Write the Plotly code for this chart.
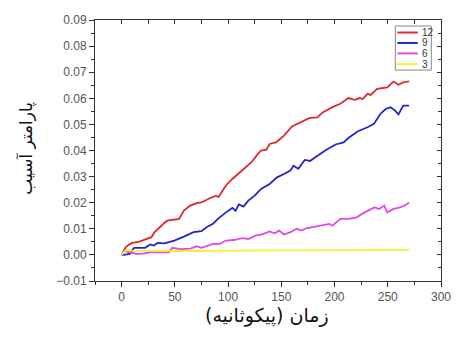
import plotly.graph_objects as go

series_names = ["12", "9", "6", "3"]
series_colors = ["#e0282c", "#2424c8", "#e448e4", "#f2f230"]

red_x = [0, 2, 4, 7, 10, 16, 23, 28, 31, 35.5, 40, 43, 49, 54, 58.5, 64.5, 70.6, 75, 82.7, 88.8, 91, 94, 98, 104, 110, 116, 122, 128, 131, 136, 139, 145, 152.5, 160, 167.6, 176.7, 184, 188.8, 198, 205.5, 213, 219, 223.5, 226.5, 231, 234, 240, 249.5, 255.5, 260, 264.5, 270]
red_y = [0, 0.0016, 0.0030, 0.0040, 0.0046, 0.0050, 0.0059, 0.0068, 0.0087, 0.0106, 0.0122, 0.0131, 0.0135, 0.0138, 0.0170, 0.0189, 0.0198, 0.0201, 0.0217, 0.0227, 0.0222, 0.0240, 0.0266, 0.0291, 0.0313, 0.0336, 0.0355, 0.0387, 0.0400, 0.0403, 0.0425, 0.0431, 0.0457, 0.0492, 0.0508, 0.0525, 0.0527, 0.0546, 0.0566, 0.0579, 0.0601, 0.0594, 0.0601, 0.0597, 0.0617, 0.0613, 0.0636, 0.0642, 0.0664, 0.0652, 0.0661, 0.0665]

blue_x = [0, 2.5, 8, 11.6, 22, 27, 30, 34, 40, 49.5, 58.5, 67.6, 75, 79.7, 85.8, 90.4, 98, 104, 107, 110, 114.5, 119, 125, 131, 139, 146, 152.5, 158.5, 161.5, 166, 172, 177, 184, 192, 201, 208.5, 213, 222, 231, 237, 243, 248, 252.5, 257, 260, 264.5, 270]
blue_y = [0, 0.0000, 0.0005, 0.0027, 0.0027, 0.0040, 0.0036, 0.0046, 0.0044, 0.0055, 0.0070, 0.0087, 0.0091, 0.0106, 0.0119, 0.0138, 0.0163, 0.0180, 0.0169, 0.0193, 0.0185, 0.0208, 0.0227, 0.0253, 0.0272, 0.0297, 0.0310, 0.0323, 0.0342, 0.0330, 0.0364, 0.0360, 0.0380, 0.0402, 0.0423, 0.0431, 0.0448, 0.0474, 0.0489, 0.0502, 0.0540, 0.0559, 0.0566, 0.0553, 0.0538, 0.0572, 0.0572]

mag_x = [0, 3, 7.5, 15, 21, 27, 34, 44.5, 47.6, 55, 64.5, 70.6, 75, 86, 92, 98, 105.5, 113, 119, 125, 132.5, 139, 143.6, 148, 152.5, 158.5, 164.5, 169, 173.6, 182.7, 188.8, 195, 198, 205.5, 213, 220.7, 228.3, 237.3, 242, 246.6, 249.5, 255.5, 261.5, 266, 270]
mag_y = [0, 0.0015, 0.0010, 0.0003, 0.0006, 0.0010, 0.0010, 0.0010, 0.0027, 0.0022, 0.0024, 0.0033, 0.0027, 0.0042, 0.0042, 0.0055, 0.0057, 0.0064, 0.0061, 0.0073, 0.0080, 0.0090, 0.0083, 0.0093, 0.0078, 0.0087, 0.0100, 0.0093, 0.0102, 0.0108, 0.0112, 0.0119, 0.0112, 0.0138, 0.0138, 0.0144, 0.0163, 0.0182, 0.0176, 0.0189, 0.0163, 0.0176, 0.0182, 0.0189, 0.0201]

yel_x = [0, 4, 10, 30, 60, 100, 140, 180, 220, 245, 255, 270]
yel_y = [0, 0.0018, 0.0016, 0.0015, 0.0015, 0.0016, 0.0016, 0.0017, 0.0018, 0.0019, 0.0020, 0.0019]

x_title = "زمان (پیکوثانیه)"
y_title = "پارامتر آسیب"

xs = [red_x, blue_x, mag_x, yel_x]
ys = [red_y, blue_y, mag_y, yel_y]

fig = go.Figure()
for name, color, x, y in zip(series_names, series_colors, xs, ys):
    fig.add_trace(go.Scatter(x=x, y=y, mode="lines", name=name,
                             line=dict(color=color, width=1.8), showlegend=False))

# dummy trace for mirror axes (top / right)
fig.add_trace(go.Scatter(x=[None], y=[None], xaxis="x2", yaxis="y2", showlegend=False, hoverinfo="skip"))

tick_font = dict(family="Liberation Sans, Arial", size=12, color="#555555")
XR = [-25, 300]
YR = [-0.01, 0.09]

fig.update_layout(
    width=462, height=355,
    margin=dict(l=95, r=11, t=20, b=74),
    paper_bgcolor="white", plot_bgcolor="white",
    xaxis=dict(range=XR, tickmode="array", tickvals=[0, 50, 100, 150, 200, 250, 300],
               ticks="outside", ticklen=5, tickwidth=1, tickcolor="#333",
               minor=dict(tickmode="array", tickvals=[-25, 25, 75, 125, 175, 225, 275], ticks="outside", ticklen=3, tickcolor="#333"),
               showline=True, linecolor="#333", linewidth=1, showgrid=False, zeroline=False,
               tickfont=tick_font),
    yaxis=dict(range=YR, tickmode="linear", tick0=0, dtick=0.01, tickformat=".2f",
               ticks="outside", ticklen=5, tickwidth=1, tickcolor="#333",
               minor=dict(dtick=0.005, ticks="outside", ticklen=3, tickcolor="#333"),
               showline=True, linecolor="#333", linewidth=1, showgrid=False, zeroline=False,
               tickfont=tick_font),
    xaxis2=dict(range=XR, overlaying="x", side="top", anchor="y2", tickmode="array",
                tickvals=[0, 50, 100, 150, 200, 250, 300],
                ticks="inside", ticklen=4, tickcolor="#333",
                minor=dict(tickmode="array", tickvals=[-25, 25, 75, 125, 175, 225, 275], ticks="inside", ticklen=4, tickcolor="#333"),
                showticklabels=False, showline=True, linecolor="#333", linewidth=1,
                showgrid=False, zeroline=False),
    yaxis2=dict(range=YR, overlaying="y", side="right", anchor="x2", tickmode="linear", tick0=0, dtick=0.01,
                ticks="inside", ticklen=4, tickcolor="#333",
                minor=dict(dtick=0.005, ticks="inside", ticklen=3, tickcolor="#333"),
                showticklabels=False, showline=True, linecolor="#333", linewidth=1,
                showgrid=False, zeroline=False),
)

# axis titles
fig.add_annotation(text=x_title, xref="paper", yref="paper", x=0.497, y=-0.134,
                   xanchor="center", yanchor="middle", showarrow=False,
                   font=dict(family="DejaVu Sans", size=19, color="#111"))
fig.add_annotation(text=y_title, xref="paper", yref="paper", x=-0.2, y=0.51,
                   xanchor="center", yanchor="middle", showarrow=False, textangle=-90,
                   font=dict(family="DejaVu Sans", size=17, color="#111"))

# compact legend box
fig.add_shape(type="rect", xref="paper", yref="paper", x0=0.868, x1=0.972, y0=0.808, y1=0.977,
              line=dict(color="#888888", width=1), fillcolor="white", layer="above")
entry_y = [0.952, 0.912, 0.872, 0.831]
for name, color, ey in zip(series_names, series_colors, entry_y):
    fig.add_shape(type="line", xref="paper", yref="paper", x0=0.874, x1=0.933, y0=ey, y1=ey,
                  line=dict(color=color, width=2), layer="above")
    fig.add_annotation(text=name, xref="paper", yref="paper", x=0.939, y=ey,
                       xanchor="left", yanchor="middle", showarrow=False,
                       font=dict(family="Liberation Sans, Arial", size=10, color="#333"))

fig.write_html("out.html", config={"displayModeBar": False},
               post_script="document.body.style.margin='0px';")
